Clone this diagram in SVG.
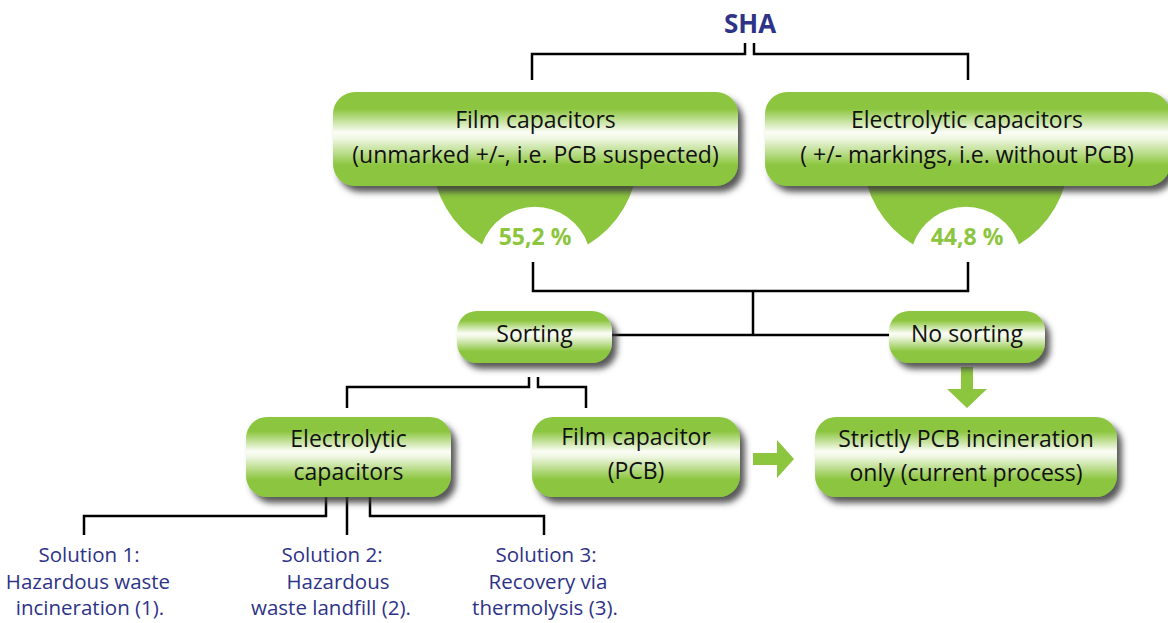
<svg xmlns="http://www.w3.org/2000/svg" width="1168" height="623" viewBox="0 0 1168 623">
  <defs>
    <linearGradient id="boxFill" x1="0" y1="0" x2="0" y2="1">
      <stop offset="0" stop-color="#8cc63f"/>
      <stop offset="0.18" stop-color="#8cc63f"/>
      <stop offset="0.43" stop-color="#fbfdf6"/>
      <stop offset="0.5" stop-color="#eef6e0"/>
      <stop offset="0.78" stop-color="#8cc63f"/>
      <stop offset="1" stop-color="#8cc63f"/>
    </linearGradient>
    <filter id="shadow" x="-10%" y="-20%" width="125%" height="150%">
      <feGaussianBlur in="SourceAlpha" stdDeviation="3"/>
      <feOffset dx="5" dy="6" result="blur"/>
      <feFlood flood-color="#3a3a3a" flood-opacity="0.85"/>
      <feComposite in2="blur" operator="in"/>
      <feMerge>
        <feMergeNode/>
        <feMergeNode in="SourceGraphic"/>
      </feMerge>
    </filter>
  </defs>
  <style>
    .box { fill: url(#boxFill); filter: url(#shadow); }
    .lbl { font-family: "Open Sans", "Liberation Sans", sans-serif; font-size: 23px; fill: #111; text-anchor: middle; }
    .pct { font-family: "Open Sans", "Liberation Sans", sans-serif; font-size: 23px; font-weight: bold; fill: #8cc63f; text-anchor: middle; }
    .sol { font-family: "Open Sans", "Liberation Sans", sans-serif; font-size: 20.5px; fill: #2e3387; text-anchor: middle; }
    .title { font-family: "Open Sans", "Liberation Sans", sans-serif; font-size: 26px; font-weight: bold; fill: #2e3387; text-anchor: middle; }
    .wire { fill: none; stroke: #000; stroke-width: 2.5; }
    .disc { fill: #8cc63f; }
    .arrow { fill: #8cc63f; }
  </style>

  <!-- root label -->
  <g id="sha">
    <text class="title" x="750" y="33">SHA</text>
  </g>

  <!-- connectors -->
  <g id="connectors">
    <path class="wire" d="M532,80 V54 H745 V43"/>
    <path class="wire" d="M754,43 V54 H968 V80"/>
    <path class="wire" d="M533,262 V291 H968 V262"/>
    <path class="wire" d="M753,291 V335"/>
    <path class="wire" d="M612,335 H889"/>
    <path class="wire" d="M347,408 V387 H529 V377"/>
    <path class="wire" d="M538,377 V387 H586 V408"/>
    <path class="wire" d="M326,497 V516 H84 V535"/>
    <path class="wire" d="M347,497 V535"/>
    <path class="wire" d="M370,497 V516 H544 V535"/>
    <polygon class="arrow" points="961,367 973,367 973,389 987,389 967,408 947,389 961,389"/>
    <polygon class="arrow" points="753,453 777,453 777,440 794,459 777,478 777,465 753,465"/>
  </g>

  <!-- film capacitors (top left) with share badge -->
  <g id="film-capacitors">
    <path class="disc" d="M431.1,160 A103,103 0 0 0 481.1,244.4 A56,56 0 0 1 586.9,244.4 A103,103 0 0 0 636.9,160 Z" transform="translate(1,0)"/>
    <rect class="box" x="333" y="92" width="405" height="94" rx="22"/>
    <text class="lbl" x="535.5" y="128">Film capacitors</text>
    <text class="lbl" x="535.5" y="163">(unmarked +/-, i.e. PCB suspected)</text>
    <text class="pct" x="535" y="245">55,2 %</text>
  </g>

  <!-- electrolytic capacitors (top right) with share badge -->
  <g id="electrolytic-capacitors-top">
    <path class="disc" d="M431.1,160 A103,103 0 0 0 481.1,244.4 A56,56 0 0 1 586.9,244.4 A103,103 0 0 0 636.9,160 Z" transform="translate(432,0)"/>
    <rect class="box" x="765" y="92" width="405" height="94" rx="22"/>
    <text class="lbl" x="967" y="128">Electrolytic capacitors</text>
    <text class="lbl" x="967" y="163">( +/- markings, i.e. without PCB)</text>
    <text class="pct" x="967" y="245">44,8 %</text>
  </g>

  <g id="sorting">
    <rect class="box" x="457" y="311" width="155" height="52" rx="20"/>
    <text class="lbl" x="534.5" y="342">Sorting</text>
  </g>

  <g id="no-sorting">
    <rect class="box" x="889" y="311" width="156" height="52" rx="20"/>
    <text class="lbl" x="967" y="342">No sorting</text>
  </g>

  <g id="electrolytic-capacitors">
    <rect class="box" x="246" y="417" width="205" height="80" rx="21"/>
    <text class="lbl" x="348.5" y="447">Electrolytic</text>
    <text class="lbl" x="348.5" y="480">capacitors</text>
  </g>

  <g id="film-capacitor-pcb">
    <rect class="box" x="532" y="417" width="208" height="80" rx="21"/>
    <text class="lbl" x="636" y="445">Film capacitor</text>
    <text class="lbl" x="636" y="479">(PCB)</text>
  </g>

  <g id="pcb-incineration">
    <rect class="box" x="815" y="417" width="302" height="80" rx="21"/>
    <text class="lbl" x="966" y="447">Strictly PCB incineration</text>
    <text class="lbl" x="966" y="481">only (current process)</text>
  </g>

  <g id="solution-1">
    <text class="sol" x="89" y="562">Solution 1:</text>
    <text class="sol" x="88" y="589">Hazardous waste</text>
    <text class="sol" x="90" y="615">incineration (1).</text>
  </g>

  <g id="solution-2">
    <text class="sol" x="332" y="562">Solution 2:</text>
    <text class="sol" x="338" y="589">Hazardous</text>
    <text class="sol" x="331" y="615">waste landfill (2).</text>
  </g>

  <g id="solution-3">
    <text class="sol" x="546" y="562">Solution 3:</text>
    <text class="sol" x="548" y="589">Recovery via</text>
    <text class="sol" x="545" y="615">thermolysis (3).</text>
  </g>
</svg>
